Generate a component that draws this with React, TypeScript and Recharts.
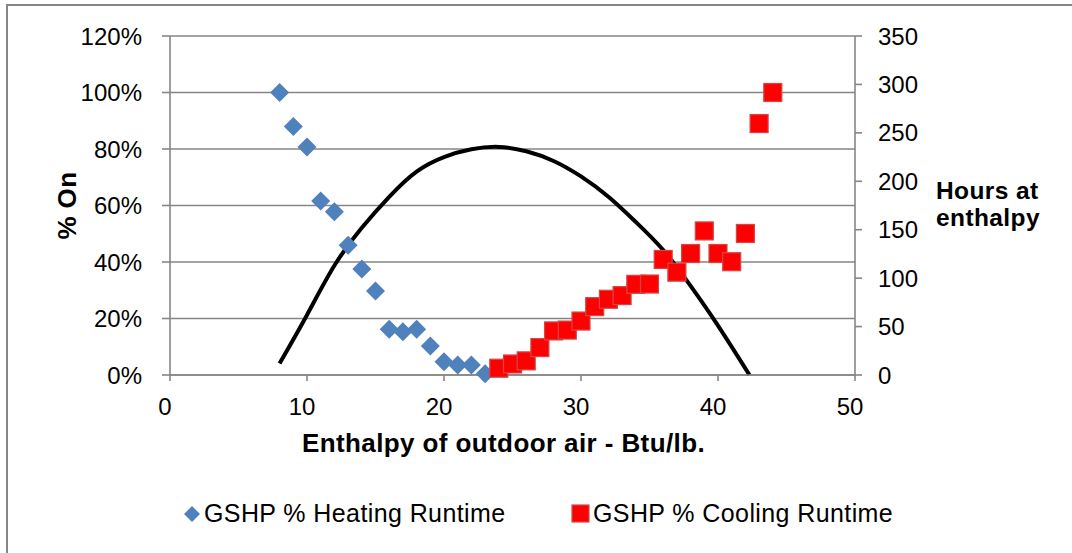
import { ComposedChart, Scatter, Line, XAxis, YAxis, CartesianGrid, Legend, Label } from 'recharts'

const FONT = '"Liberation Sans", Arial, sans-serif'
const AXIS_GREY = '#868686'

// heating runtime (% on) vs enthalpy
const heatingEnthalpy = [8, 9, 10, 11, 12, 13, 14, 15, 16, 17, 18, 19, 20, 21, 22, 23]
const heatingPct = [100, 88, 80.7, 61.6, 57.8, 45.9, 37.5, 29.7, 16.2, 15.3, 16.2, 10.3, 4.7, 3.5, 3.5, 0.4]

// cooling runtime (% on) vs enthalpy
const coolingEnthalpy = [24, 25, 26, 27, 28, 29, 30, 31, 32, 33, 34, 35, 36, 37, 38, 39, 40, 41, 42, 43, 44]
const coolingPct = [2.4, 3.9, 5.0, 9.7, 15.6, 15.9, 19.1, 24.2, 26.8, 28.1, 32.1, 32.2, 40.9, 36.4, 43.0, 51.0, 43.0, 40.1, 50.1, 89.0, 100]

// hours at enthalpy (right axis)
const hoursEnthalpy = [8, 10, 12, 14, 16, 18, 20, 22, 24, 26, 28, 30, 32, 34, 36, 38, 40, 42.3]
const hoursValues = [12, 62, 113, 152, 184, 210, 225, 233, 235.5, 231, 221, 205, 184, 158, 129, 92, 51, 0]

const xTicks = [0, 10, 20, 30, 40, 50]
const pctTicks = [0, 20, 40, 60, 80, 100, 120]
const hourTicks = [0, 50, 100, 150, 200, 250, 300, 350]

const heatingData = heatingEnthalpy.map((x, i) => ({ x, y: heatingPct[i] }))
const coolingData = coolingEnthalpy.map((x, i) => ({ x, y: coolingPct[i] }))
const hoursData = hoursEnthalpy.map((x, i) => ({ x, h: hoursValues[i] }))

const titleStyle = { fontSize: 26, fontWeight: 'bold' as const, letterSpacing: 0.4, fill: '#000' }

function Diamond({ cx, cy, r = 9.5, fill = '#4F81BD' }: any) {
	return <polygon points={`${cx},${cy - r} ${cx + r},${cy} ${cx},${cy + r} ${cx - r},${cy}`} fill={fill} />
}

function Square({ cx, cy, s = 18 }: any) {
	return <rect x={cx - s / 2} y={cy - s / 2} width={s} height={s} fill='#FF0000' stroke='#D24848' strokeWidth={1.2} />
}

function LegendBox() {
	return (
		<div style={{ position: 'relative', height: 32, fontFamily: FONT, fontSize: 25, letterSpacing: 0.4, color: '#000' }}>
			<svg width={20} height={20} style={{ position: 'absolute', left: 182, top: 6 }}>
				<Diamond cx={10} cy={10} r={8} />
			</svg>
			<span style={{ position: 'absolute', left: 204, top: 1, whiteSpace: 'nowrap' }}>GSHP % Heating Runtime</span>
			<svg width={20} height={20} style={{ position: 'absolute', left: 571, top: 6 }}>
				<rect x={1} y={1} width={17} height={17} fill='#FF0000' stroke='#D24848' strokeWidth={1.2} />
			</svg>
			<span style={{ position: 'absolute', left: 593, top: 1, whiteSpace: 'nowrap' }}>GSHP % Cooling Runtime</span>
		</div>
	)
}

export default function App() {
	return (
		<div style={{ position: 'absolute', left: 0, top: 0, width: 1072, height: 553, overflow: 'hidden', background: '#fff' }}>
			<div style={{ position: 'absolute', left: 6, top: 4, width: 1120, height: 620, border: `2px solid ${AXIS_GREY}` }} />
			<div style={{ position: 'absolute', left: 0, top: 0 }}>
				<ComposedChart
					width={1072}
					height={553}
					margin={{ top: 36, right: 117, bottom: 98, left: 50 }}
					style={{ fontFamily: FONT }}
				>
					<CartesianGrid yAxisId='left' vertical={false} stroke={AXIS_GREY} strokeWidth={1.6} />
					<XAxis
						dataKey='x'
						type='number'
						domain={[0, 50]}
						ticks={xTicks}
						height={80}
						stroke={AXIS_GREY}
						strokeWidth={1.6}
						tickSize={6}
						tickMargin={17}
						tick={{ fill: '#000', fontSize: 24, dx: -5 }}
					>
						<Label
							content={({ viewBox }: any) => (
								<text x={viewBox.x + viewBox.width / 2 - 9} y={viewBox.y + 77} textAnchor='middle' {...titleStyle}>
									Enthalpy of outdoor air - Btu/lb.
								</text>
							)}
						/>
					</XAxis>
					<YAxis
						yAxisId='left'
						type='number'
						domain={[0, 120]}
						ticks={pctTicks}
						width={120}
						stroke={AXIS_GREY}
						strokeWidth={1.6}
						tickSize={8}
						tickMargin={20}
						tickFormatter={(v: number) => `${v}%`}
						tick={{ fill: '#000', fontSize: 24 }}
					>
						<Label
							content={({ viewBox }: any) => {
								const cx = 76
								const cy = viewBox.y + viewBox.height / 2
								return (
									<text x={cx} y={cy} transform={`rotate(-90 ${cx} ${cy})`} textAnchor='middle' {...titleStyle}>
										% On
									</text>
								)
							}}
						/>
					</YAxis>
					<YAxis
						yAxisId='right'
						orientation='right'
						type='number'
						domain={[0, 350]}
						ticks={hourTicks}
						width={100}
						stroke={AXIS_GREY}
						strokeWidth={1.6}
						tickSize={7}
						tickMargin={16}
						tick={{ fill: '#000', fontSize: 24 }}
					>
						<Label
							content={({ viewBox }: any) => (
								<text x={viewBox.x + 81} y={199} {...titleStyle} fontSize={24.5}>
									<tspan x={viewBox.x + 81} y={199}>Hours at</tspan>
									<tspan x={viewBox.x + 81} y={226}>enthalpy</tspan>
								</text>
							)}
						/>
					</YAxis>
					<Legend
						layout='horizontal'
						verticalAlign='middle'
						align='center'
						wrapperStyle={{ top: 498, left: 0, width: 1072 }}
						content={() => <LegendBox />}
					/>
					<Line
						yAxisId='right'
						data={hoursData}
						dataKey='h'
						type='natural'
						stroke='#000'
						strokeWidth={4}
						dot={false}
						activeDot={false}
						legendType='none'
						isAnimationActive={false}
					/>
					<Scatter
						yAxisId='left'
						name='GSHP % Heating Runtime'
						data={heatingData}
						dataKey='y'
						shape={(p: any) => <Diamond cx={p.cx} cy={p.cy} />}
						isAnimationActive={false}
					/>
					<Scatter
						yAxisId='left'
						name='GSHP % Cooling Runtime'
						data={coolingData}
						dataKey='y'
						shape={(p: any) => <Square cx={p.cx} cy={p.cy} />}
						isAnimationActive={false}
					/>
				</ComposedChart>
			</div>
		</div>
	)
}
